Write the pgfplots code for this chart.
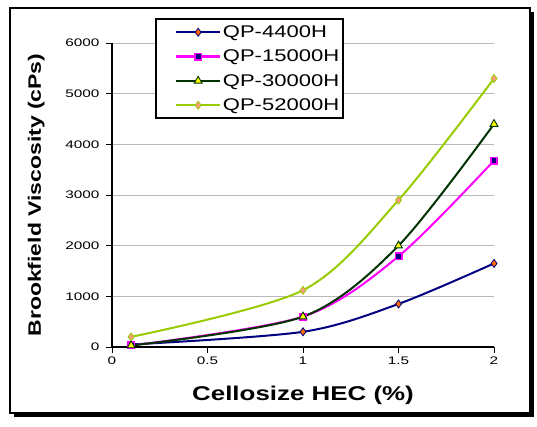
\documentclass[border=0pt]{standalone}
\usepackage{graphicx}
\usepackage{pgfplots}
\pgfplotsset{compat=1.18}
\usepackage{fontspec}
\setmainfont{Liberation Sans}
\definecolor{navyc}{HTML}{000080}
\definecolor{orangec}{HTML}{FF6600}
\definecolor{magc}{HTML}{FF00FF}
\definecolor{dgreen}{HTML}{003300}
\definecolor{yelc}{HTML}{FFFF00}
\definecolor{lgreen}{HTML}{99CC00}
\definecolor{pinkc}{HTML}{FF9980}
\newcommand{\legtxt}[1]{\scalebox{1.3}[1]{#1}}
\begin{document}
\begin{tikzpicture}[x=1bp,y=1bp]
\path (-112,-79) rectangle (425,347);
\fill[black] (-98,-70) rectangle (422,335);
\draw[black, line width=1.2bp, fill=white] (-102,-66) rectangle (418,339);
\begin{axis}[
  at={(0,0)}, anchor=origin,
  scale only axis, width=382bp, height=304bp,
  xmin=0, xmax=2, ymin=0, ymax=6000,
  xtick={0,0.5,1,1.5,2},
  ytick={0,1000,...,6000},
  axis x line*=bottom, axis y line*=left,
  axis line style={line width=1.6bp, -},
  tick style={line width=1bp, black},
  major tick length=6bp,
  xtick align=outside, ytick align=outside,
  ymajorgrids, grid style={gray!55, line width=0.6bp},
  tick label style={font=\fontsize{11}{13}\selectfont},
  /pgf/number format/assume math mode=true,
  scaled y ticks=false,
  yticklabel style={/pgf/number format/set thousands separator={}, xshift=-3bp},
  xticklabel={\scalebox{1.4}[1]{\pgfmathprintnumber{\tick}}},
  yticklabel={\scalebox{1.4}[1]{\pgfmathprintnumber{\tick}}},
  xlabel={\scalebox{1.3}[1]{\bfseries Cellosize HEC (\%)}},
  ylabel={\scalebox{1.28}[1]{\bfseries Brookfield Viscosity (cPs)}},
  xlabel style={font=\fontsize{20}{22}\selectfont\bfseries, yshift=-15bp},
  ylabel style={font=\fontsize{18}{20}\selectfont\bfseries, yshift=14bp},
  legend style={at={(0.113,1.082)}, anchor=north west, draw=black, line width=2bp,
    font=\fontsize{17}{19}\selectfont, row sep=8bp, inner xsep=2bp, inner ysep=5bp,
    nodes={inner sep=1.5bp}},
  legend cell align=left,
  legend image code/.code={%
    \path[draw=none, fill=none] (0bp,-3bp) rectangle (62bp,3bp);
    \draw[#1, line width=2.5bp] (18bp,0bp) -- (62bp,0bp);
    \path[#1] plot coordinates {(40bp,0bp)};},
  every axis plot/.append style={line width=2bp, smooth, tension=0.5},
  clip=false,
]
\addplot[navyc, mark=diamond*, mark size=4bp, mark options={fill=orangec, draw=navyc, line width=0.8bp, solid}]
  coordinates {(0.1,50) (1,300) (1.5,850) (2,1650)};
\addlegendentry{\legtxt{QP-4400H}}
\addplot[magc, mark=square*, mark size=3.2bp, mark options={fill=navyc, draw=magc, line width=1.6bp}]
  coordinates {(0.1,30) (1,600) (1.5,1790) (2,3680)};
\addlegendentry{\legtxt{QP-15000H}}
\addplot[dgreen, mark=triangle*, mark size=4.5bp, mark options={fill=yelc, draw=dgreen, line width=0.9bp}]
  coordinates {(0.1,30) (1,600) (1.5,2000) (2,4400)};
\addlegendentry{\legtxt{QP-30000H}}
\addplot[lgreen, mark=diamond*, mark size=4bp, mark options={fill=pinkc, draw=lgreen, line width=0.8bp}]
  coordinates {(0.1,200) (1,1120) (1.5,2900) (2,5300)};
\addlegendentry{\legtxt{QP-52000H}}
\end{axis}
\end{tikzpicture}
\end{document}
